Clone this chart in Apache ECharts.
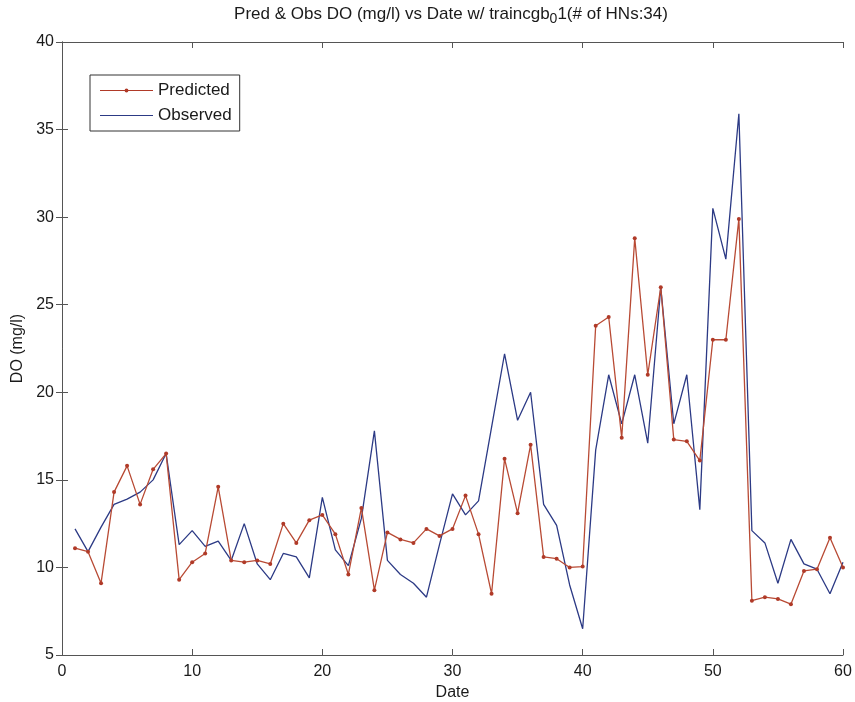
<!DOCTYPE html>
<html>
<head>
<meta charset="utf-8">
<script src="https://cdn.jsdelivr.net/npm/echarts@6/dist/echarts.min.js"></script>
<style>
  html, body { margin: 0; padding: 0; background: #fff; }
  #chart { width: 855px; height: 702px; }
</style>
</head>
<body>
<div id="chart"></div>
<script>
// dates 1..60
const dates = [];
for (let i = 1; i <= 60; i++) dates.push(i);

const predicted = [
  11.1, 10.9, 9.1, 14.3, 15.8, 13.6, 15.6, 16.5, 9.3, 10.3,
  10.8, 14.6, 10.4, 10.3, 10.4, 10.2, 12.5, 11.4, 12.7, 13.0,
  11.9, 9.6, 13.4, 8.7, 12.0, 11.6, 11.4, 12.2, 11.8, 12.2,
  14.1, 11.9, 8.5, 16.2, 13.1, 17.0, 10.6, 10.5, 10.0, 10.05,
  23.8, 24.3, 17.4, 28.8, 21.0, 26.0, 17.3, 17.2, 16.1, 23.0,
  23.0, 29.9, 8.1, 8.3, 8.2, 7.9, 9.8, 9.9, 11.7, 10.0
];

const observed = [
  12.2, 10.9, 12.3, 13.6, 13.9, 14.3, 15.0, 16.5, 11.3, 12.1,
  11.2, 11.5, 10.4, 12.5, 10.2, 9.3, 10.8, 10.6, 9.4, 14.0,
  11.0, 10.1, 12.8, 17.8, 10.4, 9.6, 9.1, 8.3, 11.3, 14.2,
  13.0, 13.8, 18.0, 22.2, 18.4, 20.0, 13.6, 12.4, 9.0, 6.5,
  16.7, 21.0, 18.2, 21.0, 17.1, 26.0, 18.2, 21.0, 13.3, 30.5,
  27.6, 35.9, 12.1, 11.4, 9.1, 11.6, 10.2, 9.9, 8.5, 10.3
];

const chart = echarts.init(document.getElementById('chart'));

const axisColor = '#555';
const textColor = '#1a1a1a';
const font = 'Liberation Sans, Arial, sans-serif';

// legend icons: thin line, with a small dot for the predicted series
const lineWithDot = 'path://M0,1.4L53,1.4L53,2.6L0,2.6Z' +
  'M28.5,2L27.9,3.4L26.5,4L25.1,3.4L24.5,2L25.1,0.6L26.5,0L27.9,0.6Z';
const plainLine = 'path://M0,0L53,0L53,1.2L0,1.2Z';

const tickStyle = {
  show: true,
  inside: true,
  length: 6,
  lineStyle: { color: axisColor, width: 1 }
};

const option = {
  animation: false,
  backgroundColor: '#fff',
  textStyle: { fontFamily: font, color: textColor },
  title: {
    text: 'Pred & Obs DO (mg/l) vs Date w/ traincgb{sub|0}1(# of HNs:34)',
    left: 446,
    textAlign: 'center',
    top: -2,
    textStyle: {
      fontSize: 17,
      fontWeight: 'normal',
      color: textColor,
      fontFamily: font,
      rich: {
        sub: { fontSize: 14, verticalAlign: 'bottom', padding: [9, 0, 0, 0], color: textColor, fontFamily: font }
      }
    }
  },
  legend: {
    orient: 'vertical',
    left: 90,
    top: 75,
    padding: [7, 8, 7, 10],
    itemGap: 8,
    itemWidth: 53,
    itemHeight: 4,
    symbolKeepAspect: true,
    borderColor: '#333',
    borderWidth: 1,
    backgroundColor: '#fff',
    textStyle: { fontSize: 17, lineHeight: 17, color: textColor, fontFamily: font },
    data: [
      { name: 'Predicted', icon: lineWithDot },
      { name: 'Observed', icon: plainLine }
    ]
  },
  grid: { left: 62, right: 12, top: 42, bottom: 47, outerBoundsMode: 'none', containLabel: false },
  xAxis: [{
    type: 'value',
    min: 0,
    max: 60,
    interval: 10,
    name: 'Date',
    nameLocation: 'middle',
    nameGap: 27,
    nameTextStyle: { fontSize: 16, color: textColor },
    axisLine: { lineStyle: { color: axisColor, width: 1 } },
    axisTick: tickStyle,
    axisLabel: { fontSize: 16, color: textColor, margin: 9 },
    splitLine: { show: false }
  }, {
    type: 'value',
    position: 'top',
    min: 0,
    max: 60,
    interval: 10,
    axisLine: { show: true, lineStyle: { color: axisColor, width: 1 } },
    axisTick: tickStyle,
    axisLabel: { show: false },
    splitLine: { show: false }
  }],
  yAxis: [{
    type: 'value',
    min: 5,
    max: 40,
    interval: 5,
    name: 'DO (mg/l)',
    nameLocation: 'middle',
    nameGap: 35,
    nameTextStyle: { fontSize: 16, color: textColor },
    axisLine: { show: true, lineStyle: { color: axisColor, width: 1 } },
    axisTick: tickStyle,
    axisLabel: { fontSize: 16, color: textColor, margin: 8 },
    splitLine: { show: false }
  }, {
    type: 'value',
    position: 'right',
    min: 5,
    max: 40,
    interval: 5,
    axisLine: { show: true, lineStyle: { color: axisColor, width: 1 } },
    axisTick: tickStyle,
    axisLabel: { show: false },
    splitLine: { show: false }
  }],
  series: [{
    name: 'Predicted',
    type: 'line',
    data: dates.map((d, i) => [d, predicted[i]]),
    symbol: 'circle',
    symbolSize: 4,
    showSymbol: true,
    lineStyle: { color: '#b84a34', width: 1.3 },
    itemStyle: { color: '#b03a28' },
    z: 3
  }, {
    name: 'Observed',
    type: 'line',
    data: dates.map((d, i) => [d, observed[i]]),
    symbol: 'none',
    lineStyle: { color: '#2c3a85', width: 1.3 },
    itemStyle: { color: '#2c3a85' },
    z: 2
  }]
};

chart.setOption(option);
</script>
</body>
</html>
